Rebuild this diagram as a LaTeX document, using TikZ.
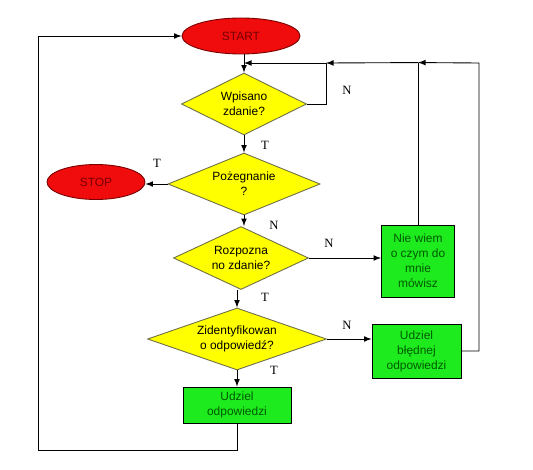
\documentclass[tikz,border=0pt]{standalone}
\usepackage{fontspec}
\setmainfont{Liberation Sans}
\newfontfamily\labfont{Liberation Serif}
\usetikzlibrary{shapes.geometric}
\definecolor{termred}{RGB}{240,12,12}
\definecolor{termtext}{RGB}{120,0,0}
\definecolor{condyellow}{RGB}{255,255,0}
\definecolor{condline}{RGB}{110,110,70}
\definecolor{actgreen}{RGB}{30,235,30}
\definecolor{acttext}{RGB}{0,90,0}

\begin{document}
\begin{tikzpicture}[x=0.2mm, y=-0.2mm, line width=0.5pt, font=\fontsize{6.8}{8.5}\selectfont,
  term/.style={ellipse, draw=termtext, fill=termred, text=termtext, inner sep=0pt},
  cond/.style={diamond, draw=condline, fill=condyellow, align=center, inner sep=0pt},
  act/.style={rectangle, draw, fill=actgreen, text=acttext, align=center, inner sep=0pt},
  lab/.style={font=\labfont\fontsize{7.2}{8}\selectfont}]
\useasboundingbox (0,0) rectangle (533,470);

\node [term, minimum width=23.6mm, minimum height=7.2mm] (start) at (241,36) {START};
\node [term, minimum width=19.6mm, minimum height=7mm] (stop) at (96,182) {STOP};
\node [cond, minimum width=25mm, minimum height=12.4mm, aspect=2] (wpisano) at (244,104) {Wpisano\\zdanie?};
\node [cond, minimum width=30.4mm, minimum height=12.4mm, aspect=2.45] (pozegnanie) at (244,184) {Pożegnanie\\?};
\node [cond, minimum width=27mm, minimum height=12.6mm, aspect=2.14] (rozpoznano) at (241,258) {Rozpozna\\no zdanie?};
\node [cond, minimum width=35.8mm, minimum height=12.4mm, aspect=2.9] (zident) at (237,339) {Zidentyfikowan\\o odpowiedź?};
\node [act, minimum width=14.6mm, minimum height=14.4mm] (niewiem) at (418,261) {Nie wiem\\o czym do\\mnie\\mówisz};
\node [act, minimum width=17.8mm, minimum height=10.8mm] (bledna) at (416.5,351) {Udziel\\błędnej\\odpowiedzi};
\node [act, minimum width=21.6mm, minimum height=7.2mm] (udziel) at (237,405) {Udziel\\odpowiedzi};

\coordinate (jB) at (326,63);
\coordinate (rt) at (479,63);
\coordinate (lb) at (38,450);

\draw [-latex] (start.south -| wpisano.north) -- (wpisano.north);
\draw [-latex] (wpisano.south) -- (pozegnanie.north);
\draw [-latex] (pozegnanie.south) -- (pozegnanie.south |- rozpoznano.north);
\draw [-latex] (rozpoznano.south -| zident.north) -- (zident.north);
\draw [-latex] (zident.south) -- (udziel.north);
\draw [-latex] (pozegnanie.west) -- (pozegnanie.west -| stop.east);
\draw [-latex] (rozpoznano.east) -- (rozpoznano.east -| niewiem.west);
\draw [-latex] (zident.east) -- (zident.east -| bledna.west);
\draw (niewiem.north) -- ++(0,-162) coordinate (jA);
\draw [-latex] (bledna.east) -| (rt) -- (jA);
\draw [-latex] (jA) -- (jB);
\draw (wpisano.east) -| (jB);
\draw [-latex] (jB) -- (jB -| wpisano.north);
\draw [-latex] (udziel.south) |- (lb) |- (start.west);

\node [lab] (lwN) at (347,90) {N};
\node [lab] (lwT) at (265,145) {T};
\node [lab] (lpT) at (157,163) {T};
\node [lab] (lpN) at (274,225) {N};
\node [lab] (lrN) at (329,243) {N};
\node [lab] (lrT) at (265,297) {T};
\node [lab] (lzN) at (347,325) {N};
\node [lab] (lzT) at (274,370) {T};
\end{tikzpicture}
\end{document}
